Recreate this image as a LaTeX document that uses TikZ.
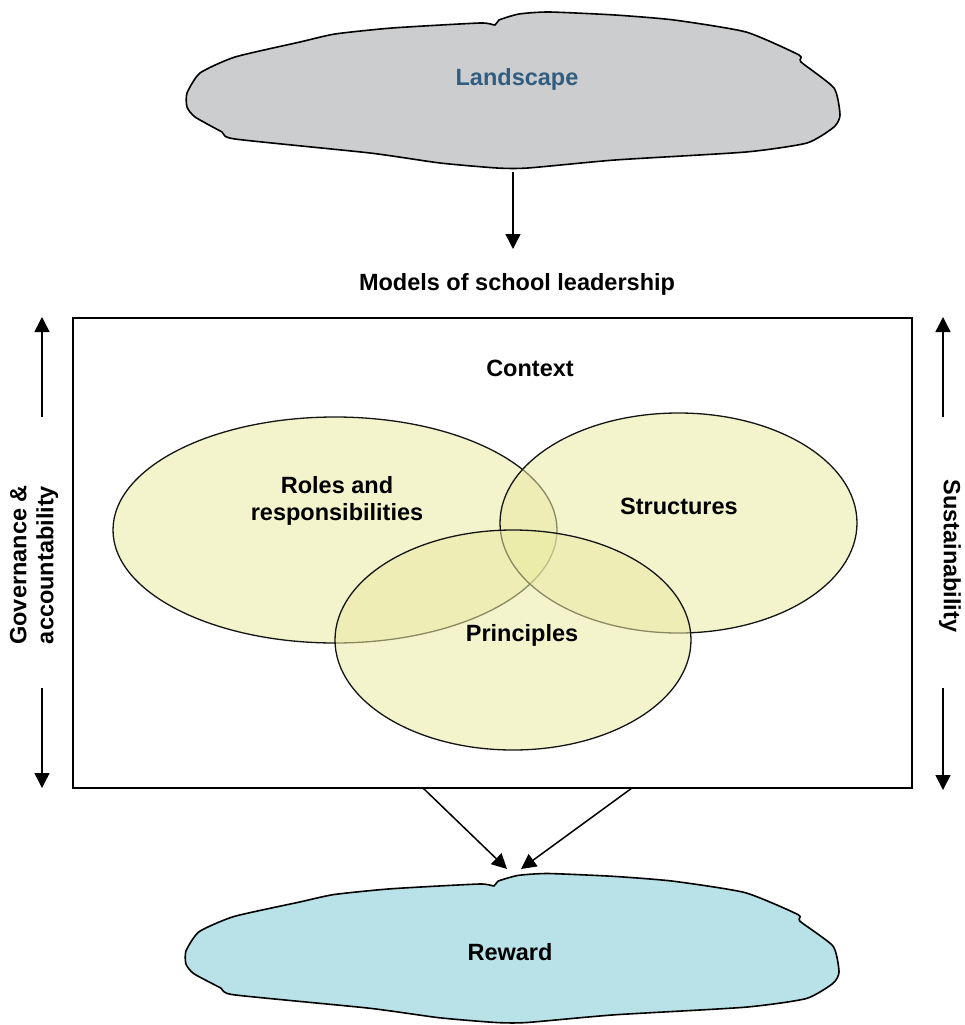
\documentclass[tikz,border=0pt]{standalone}
\usepackage{fontspec}
\setmainfont{Liberation Sans}
\usetikzlibrary{arrows.meta}
\definecolor{cloudgray}{RGB}{204,205,207}
\definecolor{cloudblue}{RGB}{184,226,232}
\definecolor{landblue}{RGB}{49,94,128}
\definecolor{venn}{RGB}{233,233,162}
\definecolor{vennline}{RGB}{20,20,20}
\tikzset{
  lbl/.style={font=\fontsize{23.5}{27}\selectfont\bfseries, align=center, inner sep=0pt},
  cloudline/.style={draw=black, line width=1.6pt, line join=round},
  arr/.style={draw=black, line width=1.5pt, -{Triangle[length=15pt,width=15pt]}},
  vennset/.style={draw=vennline, line width=1.3pt, fill=venn, fill opacity=0.55, draw opacity=1},
  frame/.style={draw=black, line width=1.8pt}
}
\newcommand{\cloudshape}{plot[smooth cycle, tension=0.35] coordinates {
 (-326,3) (-313,-17) (-278,-33) (-213,-48) (-178,-56) (-121,-62) (-33,-67)
 (-18,-65) (-14,-70) (6,-76) (36,-78) (102,-75) (161,-70) (233,-58)
 (286,-35) (288,-28) (321,-2) (327,25) (321,37) (294,53) (233,62)
 (102,70) (15,78) (-16,78) (-73,73) (-143,63) (-278,49) (-291,42)
 (-318,27) (-326,17)}}
\begin{document}
\begin{tikzpicture}[x=1pt,y=-1pt]
\useasboundingbox (0,0) rectangle (965,1025);
% top cloud
\begin{scope}[shift={(513,90)}]
  \path[cloudline, fill=cloudgray] \cloudshape;
\end{scope}
\node[lbl, text=landblue] (land) at (517,79) {Landscape};
\coordinate (landbot) at (513,172);
\coordinate (modtop) at (513,249);
\draw[arr] (landbot) -- (modtop);
\node[lbl] (models) at (517,284) {Models of school leadership};
% frame
\draw[frame] (73,318) rectangle (912,788);
\node[lbl] (context) at (530,368) {Context};
% venn
\draw[vennset] (335,530) ellipse [x radius=222, y radius=113];
\draw[vennset] (678.5,523) ellipse [x radius=178.5, y radius=110];
\draw[vennset] (513,640) ellipse [x radius=178, y radius=110];
\node[lbl] (roles) at (337,501) {Roles and\\responsibilities};
\node[lbl] (struct) at (679,506) {Structures};
\node[lbl] (princ) at (522,635) {Principles};
% side labels and arrows
\node[lbl, rotate=90] (gov) at (34,565) {Governance \&\\accountability};
\node[lbl, rotate=-90] (sus) at (950,556) {Sustainability};
\coordinate (lu0) at (42,417); \coordinate (lu1) at (42,317);
\coordinate (ld0) at (42,688); \coordinate (ld1) at (42,788);
\coordinate (ru0) at (943,417); \coordinate (ru1) at (943,317);
\coordinate (rd0) at (943,688); \coordinate (rd1) at (943,790);
\draw[arr] (lu0) -- (lu1);
\draw[arr] (ld0) -- (ld1);
\draw[arr] (ru0) -- (ru1);
\draw[arr] (rd0) -- (rd1);
% bottom cloud
\begin{scope}[shift={(512,948)}, yscale=0.955]
  \path[cloudline, fill=cloudblue] \cloudshape;
\end{scope}
\node[lbl] (reward) at (510,952) {Reward};
\coordinate (b1) at (423,788); \coordinate (t1) at (507,869);
\coordinate (b2) at (632,788); \coordinate (t2) at (521,869);
\draw[arr] (b1) -- (t1);
\draw[arr] (b2) -- (t2);
\end{tikzpicture}
\end{document}
